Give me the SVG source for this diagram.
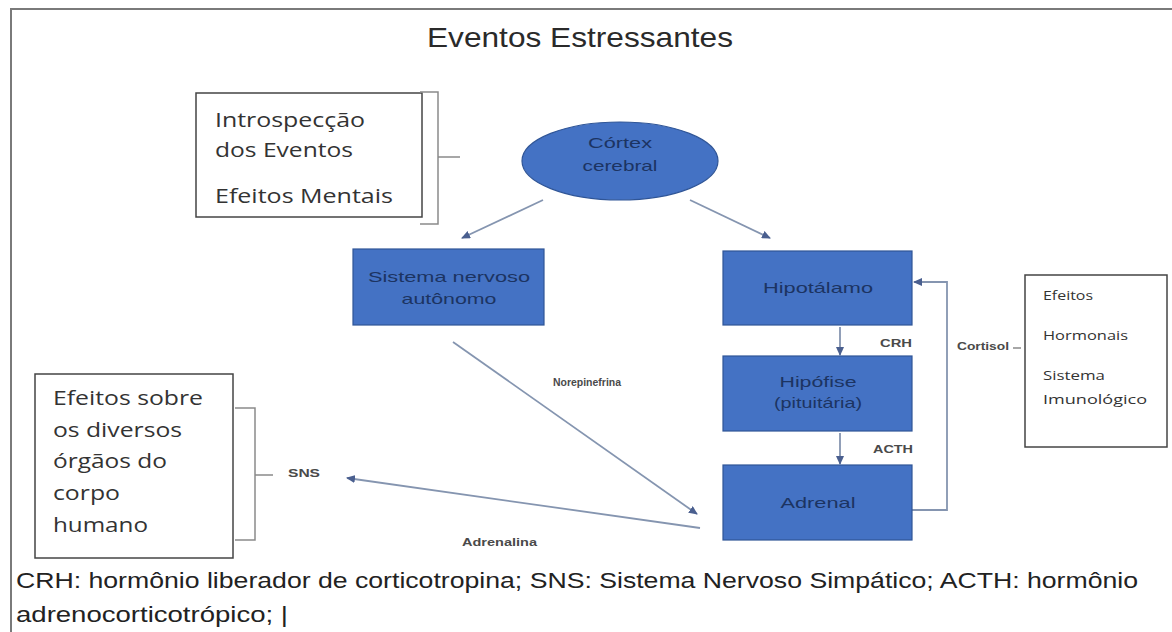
<svg xmlns="http://www.w3.org/2000/svg" width="1172" height="632" viewBox="0 0 1172 632">
<defs>
<style>
.frame{fill:none;stroke:#7a7a7a;stroke-width:2}
.box{fill:#4472c4;stroke:#2f5597;stroke-width:1.2}
.note{fill:#fff;stroke:#444;stroke-width:1.5}
.brk{fill:none;stroke:#8a8a8a;stroke-width:1.5}
.conn{fill:none;stroke:#8595b0;stroke-width:1.8}
.nt{font-family:"Liberation Sans",Arial,sans-serif;font-size:15px;fill:#1c3462;text-anchor:middle}
.cal{font-family:"Open Sans","Noto Sans",sans-serif;fill:#333}
.sm{font-family:"Liberation Sans",Arial,sans-serif;font-size:10px;font-weight:bold;fill:#4a4a4a}
.title{font-family:"Liberation Sans",Arial,sans-serif;font-size:28px;fill:#2a2a2a}
.foot{font-family:"Liberation Sans",Arial,sans-serif;font-size:22px;fill:#222}
</style>
<marker id="ah" markerWidth="9" markerHeight="8" refX="8" refY="4" orient="auto" markerUnits="userSpaceOnUse">
<path d="M0,0 L9,4 L0,8 z" fill="#4a5f8f"/>
</marker>
</defs>
<rect width="1172" height="632" fill="#fff"/>
<path class="frame" d="M11,632 V9 H1172"/>
<text class="title" x="427" y="47" textLength="306" lengthAdjust="spacingAndGlyphs">Eventos Estressantes</text>

<g id="connectors">
<line class="conn" x1="543" y1="200" x2="462" y2="238" marker-end="url(#ah)"/>
<line class="conn" x1="690" y1="200" x2="770" y2="238" marker-end="url(#ah)"/>
<line class="conn" x1="840" y1="327" x2="840" y2="355" marker-end="url(#ah)"/>
<line class="conn" x1="840" y1="433" x2="840" y2="464" marker-end="url(#ah)"/>
<line class="conn" x1="453" y1="342" x2="697" y2="514" marker-end="url(#ah)"/>
<line class="conn" x1="700" y1="528" x2="347" y2="478" marker-end="url(#ah)"/>
<polyline class="conn" points="912,510 947,510 947,282 914,282" marker-end="url(#ah)"/>
<line class="brk" x1="1013" y1="348" x2="1021" y2="348"/>
</g>

<g id="labels">
<text class="sm" x="880" y="347" textLength="32" lengthAdjust="spacingAndGlyphs">CRH</text>
<text class="sm" x="873" y="453" textLength="40" lengthAdjust="spacingAndGlyphs">ACTH</text>
<text class="sm" x="957" y="350" textLength="52" lengthAdjust="spacingAndGlyphs">Cortisol</text>
<text class="sm" x="553" y="386" textLength="68" lengthAdjust="spacingAndGlyphs">Norepinefrina</text>
<text class="sm" x="462" y="546" textLength="75" lengthAdjust="spacingAndGlyphs">Adrenalina</text>
<text class="sm" x="288" y="477" textLength="32" lengthAdjust="spacingAndGlyphs">SNS</text>
</g>

<g id="cortex">
<ellipse class="box" cx="620" cy="161" rx="98" ry="39"/>
<text class="nt" x="620" y="148" textLength="64" lengthAdjust="spacingAndGlyphs">Córtex</text>
<text class="nt" x="620" y="171" textLength="75" lengthAdjust="spacingAndGlyphs">cerebral</text>
</g>

<g id="sna">
<rect class="box" x="353" y="249" width="191" height="76"/>
<text class="nt" x="449" y="282" textLength="162" lengthAdjust="spacingAndGlyphs">Sistema nervoso</text>
<text class="nt" x="449" y="304" textLength="95" lengthAdjust="spacingAndGlyphs">autônomo</text>
</g>

<g id="hipotalamo">
<rect class="box" x="723" y="251" width="189" height="74"/>
<text class="nt" x="818" y="293" textLength="110" lengthAdjust="spacingAndGlyphs">Hipotálamo</text>
</g>

<g id="hipofise">
<rect class="box" x="723" y="356" width="189" height="75"/>
<text class="nt" x="818" y="387" textLength="77" lengthAdjust="spacingAndGlyphs">Hipófise</text>
<text class="nt" x="818" y="408" textLength="88" lengthAdjust="spacingAndGlyphs">(pituitária)</text>
</g>

<g id="adrenal">
<rect class="box" x="723" y="465" width="189" height="75"/>
<text class="nt" x="818" y="508" textLength="75" lengthAdjust="spacingAndGlyphs">Adrenal</text>
</g>

<g id="mental">
<rect class="note" x="196" y="93" width="226" height="124"/>
<path class="brk" d="M420,92 H438 V224 H420 M438,157 H460"/>
<text class="cal" font-size="20" x="215" y="127" textLength="150" lengthAdjust="spacingAndGlyphs">Introspecção</text>
<text class="cal" font-size="20" x="215" y="157" textLength="138" lengthAdjust="spacingAndGlyphs">dos Eventos</text>
<text class="cal" font-size="20" x="215" y="203" textLength="178" lengthAdjust="spacingAndGlyphs">Efeitos Mentais</text>
</g>

<g id="hormonais">
<rect class="note" x="1025" y="275" width="142" height="172"/>
<text class="cal" font-size="13" x="1043" y="300" textLength="50" lengthAdjust="spacingAndGlyphs">Efeitos</text>
<text class="cal" font-size="13" x="1043" y="340" textLength="85" lengthAdjust="spacingAndGlyphs">Hormonais</text>
<text class="cal" font-size="13" x="1043" y="380" textLength="62" lengthAdjust="spacingAndGlyphs">Sistema</text>
<text class="cal" font-size="13" x="1043" y="404" textLength="104" lengthAdjust="spacingAndGlyphs">Imunológico</text>
</g>

<g id="orgaos">
<rect class="note" x="35" y="374" width="198" height="184"/>
<path class="brk" d="M235,408 H255 V540 H235 M255,475 H273"/>
<text class="cal" font-size="20" x="53" y="405" textLength="150" lengthAdjust="spacingAndGlyphs">Efeitos sobre</text>
<text class="cal" font-size="20" x="53" y="437" textLength="129" lengthAdjust="spacingAndGlyphs">os diversos</text>
<text class="cal" font-size="20" x="53" y="468" textLength="114" lengthAdjust="spacingAndGlyphs">órgãos do</text>
<text class="cal" font-size="20" x="53" y="500" textLength="67" lengthAdjust="spacingAndGlyphs">corpo</text>
<text class="cal" font-size="20" x="53" y="532" textLength="95" lengthAdjust="spacingAndGlyphs">humano</text>
</g>

<text class="foot" x="16" y="588" textLength="1122" lengthAdjust="spacingAndGlyphs">CRH: hormônio liberador de corticotropina; SNS: Sistema Nervoso Simpático; ACTH: hormônio</text>
<text class="foot" x="16" y="622" textLength="272" lengthAdjust="spacingAndGlyphs">adrenocorticotrópico; |</text>
</svg>
